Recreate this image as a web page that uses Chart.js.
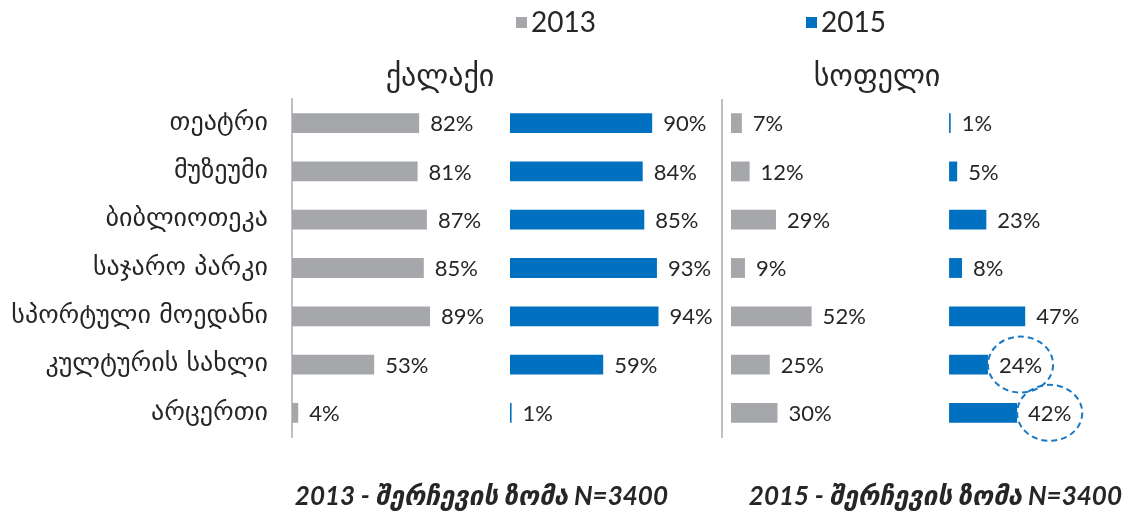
<!DOCTYPE html>
<html>
<head>
<meta charset="utf-8">
<title>ქალაქი / სოფელი</title>
<script src="https://cdn.jsdelivr.net/npm/chart.js@4.4.1/dist/chart.umd.min.js"></script>
<style>
  html, body { margin: 0; padding: 0; background: #ffffff; }
  #wrap { width: 1130px; height: 516px; position: relative; }
</style>
</head>
<body>
<div id="wrap"><canvas id="chart"></canvas></div>
<script>
// Data
const categories = ['თეატრი', 'მუზეუმი', 'ბიბლიოთეკა', 'საჯარო პარკი', 'სპორტული მოედანი', 'კულტურის სახლი', 'არცერთი'];
const cityValues2013 = [82, 81, 87, 85, 89, 53, 4];
const cityValues2015 = [90, 84, 85, 93, 94, 59, 1];
const villageValues2013 = [7, 12, 29, 9, 52, 25, 30];
const villageValues2015 = [1, 5, 23, 8, 47, 24, 42];
const seriesLabels = ['2013', '2015'];
const panelTitles = ['ქალაქი', 'სოფელი'];
const sampleNotes = ['2013 - შერჩევის ზომა N=3400', '2015 - შერჩევის ზომა N=3400'];
const circledRows = [5, 6]; // rows highlighted in the village 2015 column

const LATIN = 'Lato, "DejaVu Sans", sans-serif';
const GEO = '"DejaVu Sans", sans-serif';
const GRAY = '#a6a7aa';
const BLUE = '#0070c0';
const TEXT = '#262626';
const LINE = '#c0c0c0';

function makeDataset(label, data, color, axisId) {
    return {
        label: label,
        data: data,
        backgroundColor: color,
        xAxisID: axisId,
        grouped: false,
        categoryPercentage: 1,
        barPercentage: 0.41
    };
}

// each column gets its own x axis, stacked side by side
function columnAxis(min, max, weight) {
    return {
        type: 'linear',
        display: false,
        position: 'bottom',
        stack: 'columns',
        stackWeight: weight,
        min: min,
        max: max
    };
}

// Labels, titles, legend, notes and highlight circles
const extrasPlugin = {
    id: 'extras',
    afterDatasetsDraw(chart) {
        const ctx = chart.ctx;
        const area = chart.chartArea;
        const villageAxis = chart.scales.x2;

        ctx.save();

        // divider in front of the village columns
        ctx.strokeStyle = LINE;
        ctx.lineWidth = 2;
        ctx.beginPath();
        ctx.moveTo(villageAxis.left, area.top);
        ctx.lineTo(villageAxis.left, area.bottom + 1);
        ctx.stroke();

        // value labels
        ctx.font = '22px ' + LATIN;
        ctx.fillStyle = TEXT;
        ctx.textAlign = 'left';
        ctx.textBaseline = 'middle';
        chart.data.datasets.forEach((ds, i) => {
            const meta = chart.getDatasetMeta(i);
            meta.data.forEach((bar, j) => {
                const text = ds.data[j] + '%';
                const tx = bar.x + 11;
                ctx.fillText(text, tx, bar.y + 1);
                if (i === 3 && circledRows.includes(j)) {
                    const w = ctx.measureText(text).width;
                    ctx.save();
                    ctx.strokeStyle = '#1a78c2';
                    ctx.lineWidth = 2;
                    ctx.setLineDash([6, 4]);
                    ctx.beginPath();
                    ctx.ellipse(tx + w / 2, bar.y, w / 2 + 11, 28, 0, 0, Math.PI * 2);
                    ctx.stroke();
                    ctx.restore();
                }
            });
        });

        // panel titles
        ctx.font = '30px ' + GEO;
        ctx.textAlign = 'center';
        ctx.textBaseline = 'alphabetic';
        ctx.fillText(panelTitles[0], 440, 86);
        ctx.fillText(panelTitles[1], 877, 86);

        // legend
        const legendX = [516, 806];
        ctx.font = '28px ' + LATIN;
        ctx.textAlign = 'left';
        ctx.textBaseline = 'middle';
        [GRAY, BLUE].forEach((color, i) => {
            ctx.fillStyle = color;
            ctx.fillRect(legendX[i], 17, 11, 11);
            ctx.fillStyle = TEXT;
            ctx.fillText(seriesLabels[i], legendX[i] + 15, 23);
        });

        // sample size notes
        ctx.font = 'italic bold 26px ' + LATIN;
        ctx.textAlign = 'right';
        ctx.textBaseline = 'middle';
        ctx.fillText(sampleNotes[0], 668, 497);
        ctx.fillText(sampleNotes[1], 1122, 497);

        ctx.restore();
    }
};

const ctx = document.getElementById('chart').getContext('2d');
const chart = new Chart(ctx, {
    type: 'bar',
    data: {
        labels: categories,
        datasets: [
            makeDataset(seriesLabels[0], cityValues2013, GRAY, 'x0'),
            makeDataset(seriesLabels[1], cityValues2015, BLUE, 'x1'),
            makeDataset(seriesLabels[0], villageValues2013, GRAY, 'x2'),
            makeDataset(seriesLabels[1], villageValues2015, BLUE, 'x3')
        ]
    },
    options: {
        indexAxis: 'y',
        responsive: true,
        maintainAspectRatio: false,
        animation: false,
        layout: {
            padding: { top: 99, bottom: 79, left: 0, right: 5 }
        },
        plugins: {
            legend: { display: false },
            tooltip: { enabled: false }
        },
        scales: {
            x0: columnAxis(0, 140.6, 218),
            x1: columnAxis(0, 134.2, 212),
            x2: columnAxis(-5.8, 134.8, 218),
            x3: columnAxis(-5.6, 108.6, 185),
            y: {
                type: 'category',
                position: 'left',
                grid: { display: false, drawTicks: false },
                border: { display: true, color: LINE, width: 2 },
                ticks: {
                    color: TEXT,
                    padding: 24,
                    font: { family: GEO, size: 26 }
                },
                afterFit(scale) {
                    scale.width = 292;
                }
            }
        }
    },
    plugins: [extrasPlugin]
});
</script>
</body>
</html>
